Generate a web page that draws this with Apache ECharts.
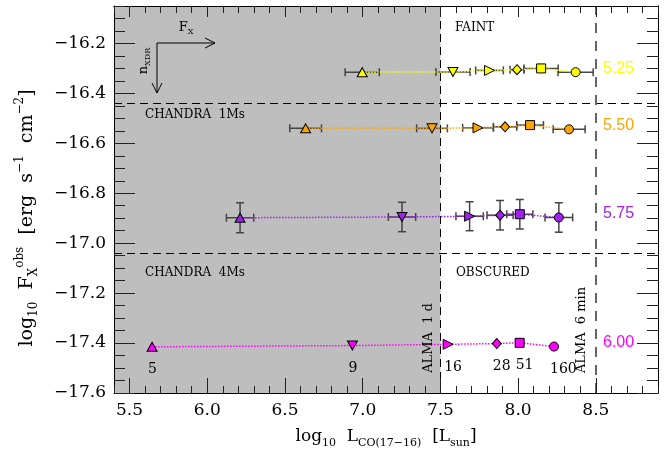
<!DOCTYPE html>
<html>
<head>
<meta charset="utf-8">
<script src="https://cdn.jsdelivr.net/npm/echarts@6/dist/echarts.min.js"></script>
<style>html,body{margin:0;padding:0;background:#fff}#main{width:672px;height:457px}</style>
</head>
<body>
<div id="main"></div>
<script>
// ---------- data ----------
const xMin = 5.4, xMax = 8.9, yMin = -17.6, yMax = -16.05;
const xLabelValues = [5.5, 6.0, 6.5, 7.0, 7.5, 8.0, 8.5];
const yLabelValues = [-17.6, -17.4, -17.2, -17.0, -16.8, -16.6, -16.4, -16.2];

const rowNames  = ['5.25', '5.50', '5.75', '6.00'];
const rowColors = ['#ffff00', '#ffa500', '#a020f0', '#ff00ff'];
const markerShapes = ['triangle', 'triangle-down', 'triangle-right', 'diamond', 'square', 'circle'];

const lcoRow525 = [6.997, 7.581, 7.816, 7.993, 8.148, 8.370];
const fxRow525  = [-16.315, -16.314, -16.308, -16.305, -16.300, -16.315];
const lcoErrRow525 = [0.110, 0.110, 0.089, 0.045, 0.110, 0.113];
const fxErrRow525  = [0, 0, 0, 0, 0, 0];

const lcoRow550 = [6.633, 7.446, 7.742, 7.916, 8.077, 8.328];
const fxRow550  = [-16.540, -16.540, -16.538, -16.534, -16.527, -16.544];
const lcoErrRow550 = [0.102, 0.099, 0.099, 0.075, 0.086, 0.103];
const fxErrRow550  = [0, 0, 0, 0, 0, 0];

const lcoRow575 = [6.211, 7.253, 7.688, 7.884, 8.011, 8.262];
const fxRow575  = [-16.898, -16.895, -16.892, -16.888, -16.884, -16.897];
const lcoErrRow575 = [0.088, 0.088, 0.088, 0.084, 0.084, 0.089];
const fxErrRow575  = [0.060, 0.059, 0.058, 0.059, 0.059, 0.059];

const lcoRow600 = [5.645, 6.934, 7.550, 7.863, 8.010, 8.231];
const fxRow600  = [-17.415, -17.410, -17.405, -17.402, -17.399, -17.414];
const lcoErrRow600 = [0, 0, 0, 0, 0, 0];
const fxErrRow600  = [0, 0, 0, 0, 0, 0];

const sourceCounts = [5, 9, 16, 28, 51, 160];

const chandraLimit1Ms = -16.44, chandraLimit4Ms = -17.04;
const almaLimit1d = 7.5, almaLimit6min = 8.5;

// ---------- helpers ----------
const rows = [
  {name: rowNames[0], color: rowColors[0], x: lcoRow525, y: fxRow525, xe: lcoErrRow525, ye: fxErrRow525},
  {name: rowNames[1], color: rowColors[1], x: lcoRow550, y: fxRow550, xe: lcoErrRow550, ye: fxErrRow550},
  {name: rowNames[2], color: rowColors[2], x: lcoRow575, y: fxRow575, xe: lcoErrRow575, ye: fxErrRow575},
  {name: rowNames[3], color: rowColors[3], x: lcoRow600, y: fxRow600, xe: lcoErrRow600, ye: fxErrRow600}
];
function symbolFor(shape) {
  switch (shape) {
    case 'triangle': return {symbol: 'triangle', symbolRotate: 0, symbolSize: [10, 9]};
    case 'triangle-down': return {symbol: 'triangle', symbolRotate: 180, symbolSize: [10, 9]};
    case 'triangle-right': return {symbol: 'triangle', symbolRotate: -90, symbolSize: [10, 10]};
    case 'diamond': return {symbol: 'diamond', symbolRotate: 0, symbolSize: [9, 10]};
    case 'square': return {symbol: 'rect', symbolRotate: 0, symbolSize: 9};
    default: return {symbol: 'circle', symbolRotate: 0, symbolSize: 9};
  }
}
function range(a, b, step) {
  const out = []; const n = Math.round((b - a) / step);
  for (let i = 0; i <= n; i++) out.push(+(a + i * step).toFixed(4));
  return out;
}
const xMajor = range(5.5, 8.5, 0.5);
const xMinor = range(5.4, 8.9, 0.1).filter(v => !xMajor.some(m => Math.abs(m - v) < 1e-6));
const yMajor = range(-17.6, -16.2, 0.2);
const yMinor = range(-17.6, -16.05, 0.05).filter(v => !yMajor.some(m => Math.abs(m - v) < 1e-6));
const fmt = v => (v < 0 ? '\u2212' : '') + Math.abs(v).toFixed(1);
const serif = 'DejaVu Serif';

function xAxisDef(pos, ticks, len, labels) {
  return {
    type: 'value', min: xMin, max: xMax, position: pos, z: 10,
    axisLine: {show: !!labels || pos === 'top', lineStyle: {color: '#000', width: 1}},
    axisTick: {show: true, inside: true, length: len, customValues: ticks, lineStyle: {color: '#222', width: 1}},
    axisLabel: labels ? {show: true, customValues: xLabelValues, formatter: v => v.toFixed(1), fontFamily: serif, fontSize: 17, color: '#000', margin: 9} : {show: false},
    splitLine: {show: false}
  };
}
function yAxisDef(pos, ticks, len, labels) {
  return {
    type: 'value', min: yMin, max: yMax, position: pos, z: 10,
    axisLine: {show: !!labels || pos === 'right', lineStyle: {color: '#000', width: 1}},
    axisTick: {show: true, inside: true, length: len, customValues: ticks, lineStyle: {color: '#222', width: 1}},
    axisLabel: labels ? {show: true, customValues: yLabelValues, formatter: fmt, fontFamily: serif, fontSize: 17, color: '#000', margin: 8} : {show: false},
    splitLine: {show: false}
  };
}

const series = [];
series.push({
  type: 'line', data: [], silent: true, z: 1,
  markArea: {silent: true, itemStyle: {color: '#bebebe'},
    data: [[{xAxis: xMin, yAxis: yMin}, {xAxis: almaLimit1d, yAxis: yMax}]]},
  markLine: {silent: true, symbol: ['none', 'none'], label: {show: false}, animation: false,
    data: [
      {yAxis: chandraLimit1Ms, lineStyle: {color: '#000', width: 1, type: [8, 5]}},
      {yAxis: chandraLimit4Ms, lineStyle: {color: '#000', width: 1, type: [8, 5]}},
      {xAxis: almaLimit1d, lineStyle: {color: '#000', width: 1, type: [8, 5]}},
      {xAxis: almaLimit6min, lineStyle: {color: '#666', width: 2, type: [10, 8]}}
    ]}
});
rows.forEach(r => {
  series.push({
    type: 'custom', z: 3, silent: true,
    data: r.x.map((x, i) => [x, r.y[i], r.xe[i], r.ye[i]]),
    renderItem: function (params, api) {
      const x = api.value(0), y = api.value(1), xe = api.value(2), ye = api.value(3);
      const st = {stroke: '#444', lineWidth: 1.5};
      const ch = [];
      if (xe > 0) {
        const a = api.coord([x - xe, y]), b = api.coord([x + xe, y]);
        ch.push({type: 'line', shape: {x1: a[0], y1: a[1], x2: b[0], y2: b[1]}, style: st});
        ch.push({type: 'line', shape: {x1: a[0], y1: a[1] - 4, x2: a[0], y2: a[1] + 4}, style: st});
        ch.push({type: 'line', shape: {x1: b[0], y1: b[1] - 4, x2: b[0], y2: b[1] + 4}, style: st});
      }
      if (ye > 0) {
        const a = api.coord([x, y - ye]), b = api.coord([x, y + ye]);
        ch.push({type: 'line', shape: {x1: a[0], y1: a[1], x2: b[0], y2: b[1]}, style: st});
        ch.push({type: 'line', shape: {x1: a[0] - 4, y1: a[1], x2: a[0] + 4, y2: a[1]}, style: st});
        ch.push({type: 'line', shape: {x1: b[0] - 4, y1: b[1], x2: b[0] + 4, y2: b[1]}, style: st});
      }
      return {type: 'group', children: ch};
    }
  });
  series.push({
    type: 'line', name: r.name, z: 5, silent: true,
    data: r.x.map((x, i) => Object.assign({value: [x, r.y[i]]}, symbolFor(markerShapes[i]))),
    lineStyle: {color: r.color, width: 1.5, type: 'dotted'},
    itemStyle: {color: r.color, borderColor: '#000', borderWidth: 1}
  });
});
series.push({
  type: 'scatter', silent: true, z: 6, symbolSize: 0,
  itemStyle: {opacity: 1},
  data: lcoRow600.map((x, i) => [x, fxRow600[i]]),
  label: {show: true, position: 'bottom', distance: 16, align: 'left', offset: [-4, 0], opacity: 1,
    formatter: p => String(sourceCounts[p.dataIndex]),
    fontFamily: serif, fontSize: 14, color: '#000'}
});

const chart = echarts.init(document.getElementById('main'));
chart.setOption({
  animation: false,
  grid: {left: 114, top: 6, right: 14, bottom: 64},
  xAxis: [xAxisDef('bottom', xMajor, 15, true), xAxisDef('bottom', xMinor, 7, false),
          xAxisDef('top', xMajor, 11, false), xAxisDef('top', xMinor, 7, false)],
  yAxis: [yAxisDef('left', yMajor, 21, true), yAxisDef('left', yMinor, 11, false),
          yAxisDef('right', yMajor, 21, false), yAxisDef('right', yMinor, 11, false)],
  series: series
});

// ---------- annotations ----------
const txt = (x, y, text, size, extra) => Object.assign({
  type: 'text', x: x, y: y, z: 20, silent: true,
  style: Object.assign({text: text, fill: '#000', fontFamily: serif, fontSize: size,
    align: 'left', verticalAlign: 'middle', textAlign: 'left', textVerticalAlign: 'middle'}, (extra && extra.style) || {})
}, extra ? {rotation: extra.rotation || 0} : {});
const center = {align: 'center', textAlign: 'center'};
const richX = {
  n: {fontFamily: serif, fontSize: 17, lineHeight: 24, verticalAlign: 'middle'},
  s: {fontFamily: serif, fontSize: 11, lineHeight: 11, verticalAlign: 'bottom'},
  p: {fontFamily: serif, fontSize: 11, lineHeight: 11, verticalAlign: 'top'}
};
const richY = {
  n: {fontFamily: serif, fontSize: 19, lineHeight: 26, verticalAlign: 'middle'},
  s: {fontFamily: serif, fontSize: 12, lineHeight: 12, verticalAlign: 'bottom'},
  p: {fontFamily: serif, fontSize: 12, lineHeight: 12, verticalAlign: 'top'}
};
const graphics = [
  txt(455, 28, 'FAINT', 12),
  txt(145, 115, 'CHANDRA  1Ms', 12),
  txt(145, 273, 'CHANDRA  4Ms', 12),
  txt(456, 273, 'OBSCURED', 12),
  txt(429, 338, 'ALMA  1 d', 13, {rotation: Math.PI / 2, style: center}),
  txt(582, 330, 'ALMA  6 min', 13, {rotation: Math.PI / 2, style: center}),
  // arrows
  {type: 'line', silent: true, z: 20, shape: {x1: 157, y1: 43, x2: 215, y2: 43}, style: {stroke: '#000', lineWidth: 1}},
  {type: 'polyline', silent: true, z: 20, shape: {points: [[205, 38], [215, 43], [205, 48]]}, style: {stroke: '#000', lineWidth: 1, fill: null}},
  {type: 'line', silent: true, z: 20, shape: {x1: 157, y1: 43, x2: 157, y2: 93}, style: {stroke: '#000', lineWidth: 1}},
  {type: 'polyline', silent: true, z: 20, shape: {points: [[152, 83], [157, 93], [162, 83]]}, style: {stroke: '#000', lineWidth: 1, fill: null}},
  {type: 'text', silent: true, z: 20, x: 186, y: 28, style: {text: '{n|F}{s|X}', align: 'center', verticalAlign: 'middle', textAlign: 'center', textVerticalAlign: 'middle',
    rich: {n: {fontFamily: serif, fontSize: 13, lineHeight: 16, verticalAlign: 'middle'}, s: {fontFamily: serif, fontSize: 8, lineHeight: 8, verticalAlign: 'bottom'}}}},
  {type: 'text', silent: true, z: 20, x: 144, y: 61, rotation: Math.PI / 2, style: {text: '{n|n}{s|XDR}', align: 'center', verticalAlign: 'middle', textAlign: 'center', textVerticalAlign: 'middle',
    rich: {n: {fontFamily: serif, fontSize: 13, lineHeight: 16, verticalAlign: 'middle'}, s: {fontFamily: serif, fontSize: 8, lineHeight: 8, verticalAlign: 'bottom'}}}},
  // axis titles
  {type: 'text', silent: true, z: 20, x: 386, y: 437, style: {
    text: '{n|log}{s|10}{n|  L}{s|CO(17\u221216)}{n|  [L}{s|sun}{n|]}',
    align: 'center', verticalAlign: 'middle', textAlign: 'center', textVerticalAlign: 'middle', rich: richX}},
  {type: 'text', silent: true, z: 20, x: 27, y: 218, rotation: Math.PI / 2, style: {
    text: '{n|log}{s|10}{n|  F}{s|X}{p|obs}{n|  [erg  s}{p|\u22121}{n|  cm}{p|\u22122}{n|]}',
    align: 'center', verticalAlign: 'middle', textAlign: 'center', textVerticalAlign: 'middle', rich: richY}}
];
rows.forEach(r => {
  const p = chart.convertToPixel({xAxisIndex: 0, yAxisIndex: 0}, [xMin, r.y[r.y.length - 1]]);
  graphics.push({type: 'text', silent: true, z: 20, x: 603, y: p[1] - 4, style: {
    text: r.name, fill: r.color, fontFamily: 'Liberation Sans', fontSize: 16,
    align: 'left', verticalAlign: 'middle', textAlign: 'left', textVerticalAlign: 'middle'}});
});
chart.setOption({graphic: graphics});
</script>
</body>
</html>
